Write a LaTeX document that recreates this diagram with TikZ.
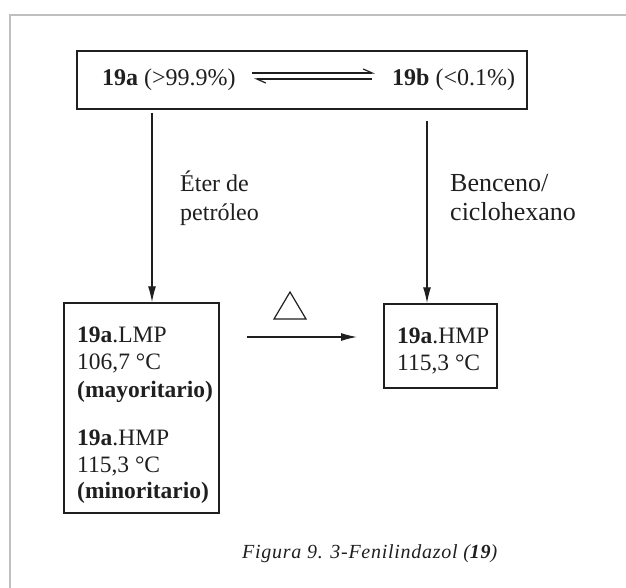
\documentclass[tikz,border=0pt]{standalone}
\usepackage{fontspec}
\setmainfont{Liberation Serif}
\newfontfamily\capfont[LetterSpace=3.6]{Liberation Serif}
\usetikzlibrary{arrows.meta}
\definecolor{ink}{gray}{0.12}
\begin{document}
\begin{tikzpicture}[x=1pt,y=-1pt,
  txt/.style={inner sep=0pt, anchor=base west, font=\fontsize{24}{28}\selectfont, text=ink},
  btxt/.style={inner sep=0pt, anchor=base west, font=\fontsize{23.5}{27}\selectfont, text=ink},
  lbl/.style={inner sep=0pt, anchor=base west, font=\fontsize{24}{28}\selectfont, text=ink},
  lblr/.style={inner sep=0pt, anchor=base west, font=\fontsize{26}{30}\selectfont, text=ink},
  box/.style={draw=ink, line width=1.5pt, inner sep=0pt},
  arr/.style={draw=ink, line width=1.2pt, -{Latex[length=16pt,width=8pt]}},
  eq/.style={draw=ink, line width=1.2pt, -{Straight Barb[left,length=9pt,width=8pt]}},
]
\useasboundingbox (0,0) rectangle (626,588);
\fill[white] (0,0) rectangle (626,588);
% outer frame
\draw[gray!50, line width=1.5pt] (10,588) -- (10,15) -- (626,15);
% top box
\node[box, minimum width=450pt, minimum height=58pt] (top) at (302,80) {};
\node[txt] (t19a) at (102,86) {\textbf{19a} (>99.9\%)};
\node[txt] (t19b) at (392,86) {\textbf{19b} (<0.1\%)};
\coordinate (e1) at (252,73); \coordinate (e2) at (375,73);
\coordinate (e3) at (372,79); \coordinate (e4) at (254,79);
\draw[eq] (e1) -- (e2);
\draw[eq] (e3) -- (e4);
% lower boxes
\node[box, minimum width=155pt, minimum height=210pt] (lbox) at (141.5,408) {};
\node[box, minimum width=113pt, minimum height=84pt] (rbox) at (440.5,346) {};
% vertical arrows
\coordinate (p1) at (152,113);
\coordinate (p2) at (427,121);
\draw[arr] (p1) -- (p1 |- lbox.north);
\draw[arr] (p2) -- (p2 |- rbox.north);
% solvent labels
\node[lbl] (s1) at (180,192) {Éter de};
\node[lbl] (s2) at (180,220) {petróleo};
\node[lblr] (s3) at (450,192) {Benceno/};
\node[lblr] (s4) at (450,220) {ciclohexano};
% left box contents
\node[btxt] (l1) at (77,342) {\textbf{19a}.LMP};
\node[btxt] (l2) at (77,369) {106,7 °C};
\node[btxt] (l3) at (77,397) {\textbf{(mayoritario)}};
\node[btxt] (l4) at (77,445) {\textbf{19a}.HMP};
\node[btxt] (l5) at (77,472) {115,3 °C};
\node[btxt] (l6) at (77,498) {\textbf{(minoritario)}};
% right box contents
\node[btxt] (r1) at (397,343) {\textbf{19a}.HMP};
\node[btxt] (r2) at (397,370) {115,3 °C};
% heat triangle and arrow
\draw[ink, line width=1.2pt, line join=miter] (290,292) -- (306,319) -- (274,319) -- cycle;
\coordinate (h1) at (247,337);
\coordinate (h2) at (357,337);
\draw[arr] (h1) -- (h2);
% caption
\node[inner sep=0pt, anchor=base west, font=\fontsize{20}{24}\selectfont, text=ink] (cap) at (242,558)
  {\capfont\itshape Figura 9. 3-Fenilindazol (\textbf{19})};
\end{tikzpicture}
\end{document}
